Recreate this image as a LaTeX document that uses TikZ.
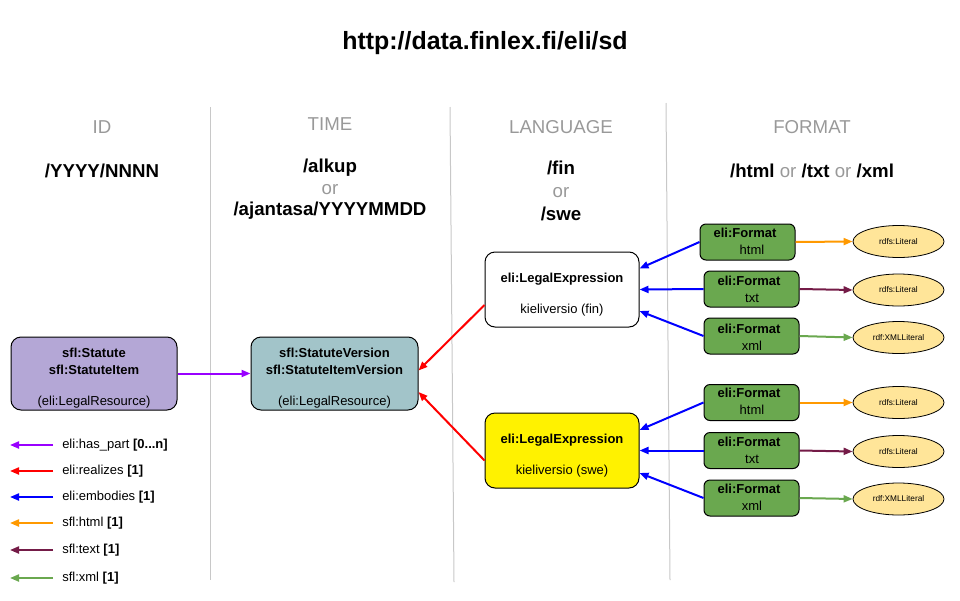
\documentclass[tikz,border=0pt]{standalone}
\usepackage{fontspec}
\setmainfont{Liberation Sans}
\usetikzlibrary{arrows.meta,calc,shapes.geometric}
\definecolor{hdr}{HTML}{999999}
\definecolor{sep}{HTML}{C8C8C8}
\definecolor{purp}{HTML}{9900FF}
\definecolor{orng}{HTML}{FF9900}
\definecolor{marn}{HTML}{741B47}
\definecolor{grn}{HTML}{6AA84F}
\definecolor{lav}{HTML}{B4A7D6}
\definecolor{tealb}{HTML}{A2C4C9}
\definecolor{fgreen}{HTML}{6AA84F}
\definecolor{lit}{HTML}{FFE599}
\newcommand{\fA}{\fontsize{18.7}{22}\selectfont}
\newcommand{\fB}{\fontsize{14}{17}\selectfont}
\newcommand{\fC}{\fontsize{9.75}{11.7}\selectfont}
\newcommand{\fD}{\fontsize{6.2}{7}\selectfont}
\begin{document}
\begin{tikzpicture}[x=0.75pt,y=-0.75pt,
  rbox/.style 2 args={draw=black, line width=0.75pt, rounded corners=7.5pt,
    minimum width=#1*0.75pt, minimum height=#2*0.75pt, inner sep=0pt},
  fbox/.style={rbox={95}{36}, fill=fgreen, rounded corners=4.5pt},
  litnode/.style={ellipse, draw=black, line width=0.6pt, fill=lit,
    minimum width=91*0.75pt, minimum height=32*0.75pt, inner sep=0pt, font=\fD},
  txt/.style={inner sep=0pt, font=\fC},
  btxt/.style={inner sep=0pt, font=\fC\bfseries},
  hd/.style={inner sep=0pt, font=\fB, text=hdr},
  sub/.style={inner sep=0pt, font=\fB\bfseries},
  sepline/.style={draw=sep, line width=0.75pt},
  arr/.style={line width=1.5pt, -{Triangle[length=6.75pt,width=5.25pt]}},
  leg/.style={inner sep=0pt, anchor=west, font=\fC}]
\useasboundingbox (0,0) rectangle (960,600);

% title
\node[inner sep=0pt, font=\fA\bfseries] (title) at (485,43) {http://data.finlex.fi/eli/sd};

% separators
\draw[sepline] (210,107) -- (210,580);
\draw[sepline] (450,107) -- (454,582);
\draw[sepline] (666,103) -- (670,580);

% headers
\node[hd] (hid) at (102,127) {ID};
\node[hd] (htime) at (330,124) {TIME};
\node[hd] (hlang) at (561,127) {LANGUAGE};
\node[hd] (hfmt) at (812,127) {FORMAT};

\node[sub] (sid) at (102,171) {/YYYY/NNNN};
\node[sub] (st1) at (330,168) {/alkup};
\node[hd] (st2) at (330,190) {or};
\node[sub] (st3) at (330,211) {/ajantasa/YYYYMMDD};
\node[sub] (sl1) at (561,168) {/fin};
\node[hd] (sl2) at (561,193) {or};
\node[sub] (sl3) at (561,214) {/swe};
\node[sub] (sf) at (812,171) {/html \textcolor{hdr}{\mdseries or} /txt \textcolor{hdr}{\mdseries or} /xml};

% main boxes
\node[rbox={166}{73}, fill=lav] (statute) at (94,373.5) {};
\node[btxt] (statute1) at (94,353) {sfl:Statute};
\node[btxt] (statute2) at (94,370) {sfl:StatuteItem};
\node[txt] (statute3) at (94,402) {(eli:LegalResource)};

\node[rbox={167}{73}, fill=tealb] (version) at (334.5,373.5) {};
\node[btxt] (version1) at (334.5,353) {sfl:StatuteVersion};
\node[btxt] (version2) at (334.5,370) {sfl:StatuteItemVersion};
\node[txt] (version3) at (334.5,402) {(eli:LegalResource)};

\node[rbox={154}{75}, fill=white] (lefin) at (562,289.5) {};
\node[btxt] (lefin1) at (562,279) {eli:LegalExpression};
\node[txt] (lefin2) at (562,310) {kieliversio (fin)};

\node[rbox={154}{75}, fill=yellow] (leswe) at (562,450.5) {};
\node[btxt] (leswe1) at (562,440) {eli:LegalExpression};
\node[txt] (leswe2) at (562,471) {kieliversio (swe)};

% format boxes
\node[fbox] (ffh) at (747.5,242) {};
\node[btxt] (ffh1) at (745,233) {eli:Format};
\node[txt] (ffh2) at (752,250) {html};
\node[fbox] (fft) at (751.5,289) {};
\node[btxt] (fft1) at (749,281) {eli:Format};
\node[txt] (fft2) at (752,298) {txt};
\node[fbox] (ffx) at (751.5,336) {};
\node[btxt] (ffx1) at (749,329) {eli:Format};
\node[txt] (ffx2) at (752,346) {xml};

\node[fbox] (fsh) at (751.5,402.5) {};
\node[btxt] (fsh1) at (749,393) {eli:Format};
\node[txt] (fsh2) at (752,410) {html};
\node[fbox] (fst) at (751.5,450.5) {};
\node[btxt] (fst1) at (749,442) {eli:Format};
\node[txt] (fst2) at (752,459) {txt};
\node[fbox] (fsx) at (751.5,498) {};
\node[btxt] (fsx1) at (749,489) {eli:Format};
\node[txt] (fsx2) at (752,506) {xml};

% literals
\node[litnode] (lfh) at (898.5,241.5) {rdfs:Literal};
\node[litnode] (lft) at (898.5,290) {rdfs:Literal};
\node[litnode] (lfx) at (898.5,337.5) {rdf:XMLLiteral};
\node[litnode] (lsh) at (898.5,402.5) {rdfs:Literal};
\node[litnode] (lst) at (898.5,451.5) {rdfs:Literal};
\node[litnode] (lsx) at (898.5,499) {rdf:XMLLiteral};

% connectors
\draw[arr, purp] (statute.east) -- (version.west);
\draw[arr, red] ($(lefin.west)+(0,15.5)$) -- ($(version.east)+(0,-3)$);
\draw[arr, red] ($(leswe.west)+(0,10)$) -- ($(version.east)+(0,18.5)$);

\draw[arr, blue] (ffh.west) -- ($(lefin.east)+(0,-21)$);
\draw[arr, blue] (fft.west) -- (lefin.east);
\draw[arr, blue] (ffx.west) -- ($(lefin.east)+(0,21.5)$);
\draw[arr, blue] (fsh.west) -- ($(leswe.east)+(0,-20.5)$);
\draw[arr, blue] (fst.west) -- (leswe.east);
\draw[arr, blue] (fsx.west) -- ($(leswe.east)+(0,22.5)$);

\draw[arr, orng] (ffh.east) -- (lfh.west);
\draw[arr, marn] (fft.east) -- (lft.west);
\draw[arr, grn] (ffx.east) -- (lfx.west);
\draw[arr, orng] (fsh.east) -- (lsh.west);
\draw[arr, marn] (fst.east) -- (lst.west);
\draw[arr, grn] (fsx.east) -- (lsx.west);

% legend
\coordinate (a1s) at (53,445); \coordinate (a1e) at (10,445);
\coordinate (a2s) at (53,471); \coordinate (a2e) at (10,471);
\coordinate (a3s) at (53,497); \coordinate (a3e) at (10,497);
\coordinate (a4s) at (53,523); \coordinate (a4e) at (10,523);
\coordinate (a5s) at (53,550); \coordinate (a5e) at (10,550);
\coordinate (a6s) at (53,578); \coordinate (a6e) at (10,578);
\draw[arr, purp] (a1s) -- (a1e);
\draw[arr, red] (a2s) -- (a2e);
\draw[arr, blue] (a3s) -- (a3e);
\draw[arr, orng] (a4s) -- (a4e);
\draw[arr, marn] (a5s) -- (a5e);
\draw[arr, grn] (a6s) -- (a6e);
\node[leg] (l1) at (62,445) {eli:has\_part \textbf{[0...n]}};
\node[leg] (l2) at (62,471) {eli:realizes \textbf{[1]}};
\node[leg] (l3) at (62,497) {eli:embodies \textbf{[1]}};
\node[leg] (l4) at (62,523) {sfl:html \textbf{[1]}};
\node[leg] (l5) at (62,550) {sfl:text \textbf{[1]}};
\node[leg] (l6) at (62,578) {sfl:xml \textbf{[1]}};
\end{tikzpicture}
\end{document}
